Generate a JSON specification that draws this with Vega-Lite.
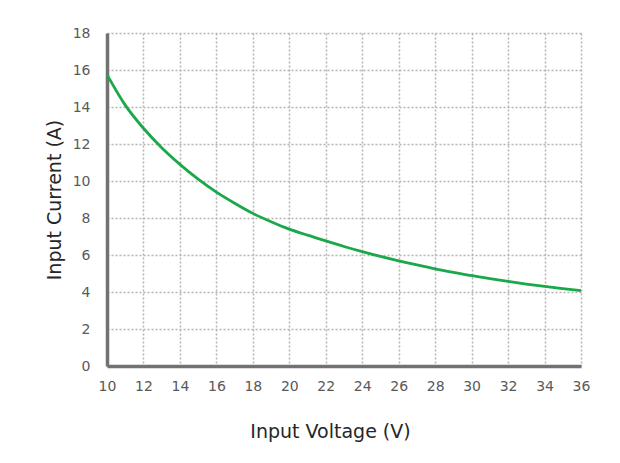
{
  "$schema": "https://vega.github.io/schema/vega-lite/v6.json",
  "autosize": "none",
  "width": 474,
  "height": 333,
  "padding": {"left": 107, "top": 33, "right": 39, "bottom": 97},
  "background": "white",
  "config": {
    "view": {"stroke": null},
    "font": "DejaVu Sans",
    "axis": {
      "grid": true,
      "gridColor": "#b4b4b4",
      "gridDash": [2, 2],
      "gridWidth": 1.5,
      "domainColor": "#767171",
      "domainWidth": 3.5,
      "ticks": false,
      "tickSize": 0,
      "labelColor": "#595959",
      "labelFont": "DejaVu Sans",
      "labelFontSize": 14,
      "labelFlush": false,
      "labelOverlap": false,
      "titleColor": "#262626",
      "titleFont": "DejaVu Sans",
      "titleFontSize": 19,
      "titleFontWeight": "normal"
    }
  },
  "data": {
    "values": [
      {"V": 10, "I": 15.75},
      {"V": 11, "I": 14.1},
      {"V": 12, "I": 12.85},
      {"V": 13, "I": 11.8},
      {"V": 14, "I": 10.9},
      {"V": 15, "I": 10.1},
      {"V": 16, "I": 9.4},
      {"V": 17, "I": 8.8},
      {"V": 18, "I": 8.25},
      {"V": 19, "I": 7.8},
      {"V": 20, "I": 7.4},
      {"V": 21, "I": 7.07},
      {"V": 22, "I": 6.76},
      {"V": 23, "I": 6.46},
      {"V": 24, "I": 6.18},
      {"V": 25, "I": 5.92},
      {"V": 26, "I": 5.68},
      {"V": 27, "I": 5.46},
      {"V": 28, "I": 5.25},
      {"V": 29, "I": 5.06},
      {"V": 30, "I": 4.88},
      {"V": 31, "I": 4.72},
      {"V": 32, "I": 4.57},
      {"V": 33, "I": 4.43},
      {"V": 34, "I": 4.3},
      {"V": 35, "I": 4.18},
      {"V": 36, "I": 4.07}
    ]
  },
  "mark": {"type": "line", "color": "#1aa84a", "strokeWidth": 2.8, "interpolate": "monotone"},
  "encoding": {
    "x": {
      "field": "V",
      "type": "quantitative",
      "scale": {"domain": [10, 36], "nice": false, "zero": false},
      "axis": {
        "title": "Input Voltage (V)",
        "values": [10, 12, 14, 16, 18, 20, 22, 24, 26, 28, 30, 32, 34, 36],
        "labelPadding": 13,
        "titlePadding": 29,
        "titleX": 223
      }
    },
    "y": {
      "field": "I",
      "type": "quantitative",
      "scale": {"domain": [0, 18], "nice": false},
      "axis": {
        "title": "Input Current (A)",
        "values": [0, 2, 4, 6, 8, 10, 12, 14, 16, 18],
        "labelPadding": 17,
        "titlePadding": 8
      }
    }
  }
}
